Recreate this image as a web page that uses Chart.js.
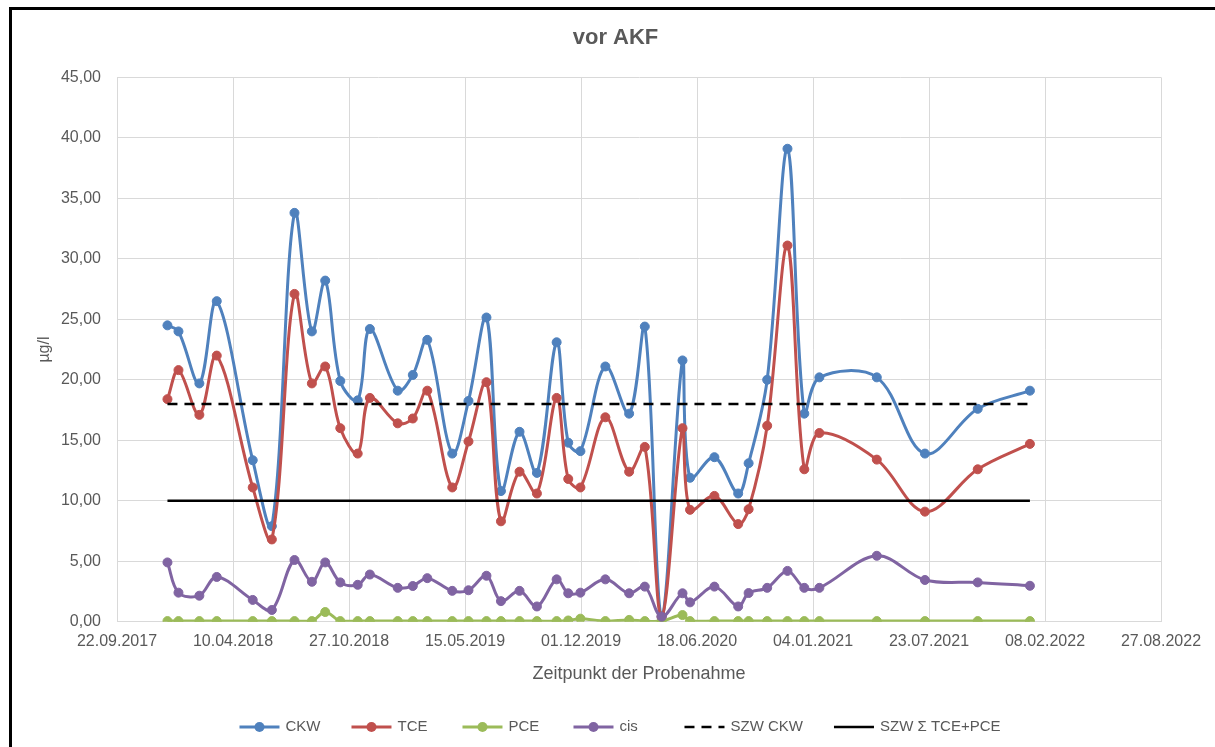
<!DOCTYPE html>
<html lang="de">
<head>
<meta charset="utf-8">
<title>vor AKF</title>
<script src="https://cdn.jsdelivr.net/npm/chart.js@4.4.1/dist/chart.umd.min.js"></script>
<style>
  html, body { margin: 0; padding: 0; background: #fff; overflow: hidden; }
  #wrap { position: relative; width: 1215px; height: 747px; }
  #frame { position: absolute; left: 9px; top: 7px; width: 1300px; height: 800px;
           border-left: 3px solid #000; border-top: 3px solid #000; pointer-events: none; }
  canvas { display: block; }
</style>
</head>
<body>
<div id="wrap">
  <canvas id="chart" width="1215" height="747"></canvas>
  <div id="frame"></div>
</div>
<script>
// Sampling dates (Zeitpunkt der Probenahme)
const sampleDates = [
  '2017-12-18', '2018-01-06', '2018-02-11', '2018-03-13', '2018-05-14', '2018-06-16',
  '2018-07-25', '2018-08-24', '2018-09-16', '2018-10-12', '2018-11-11', '2018-12-02',
  '2019-01-19', '2019-02-14', '2019-03-11', '2019-04-23', '2019-05-21', '2019-06-21',
  '2019-07-16', '2019-08-17', '2019-09-16', '2019-10-20', '2019-11-09', '2019-11-30',
  '2020-01-12', '2020-02-22', '2020-03-20', '2020-04-18', '2020-05-24', '2020-06-06',
  '2020-07-18', '2020-08-28', '2020-09-15', '2020-10-17', '2020-11-21', '2020-12-20',
  '2021-01-15', '2021-04-24', '2021-07-16', '2021-10-15', '2022-01-13'
];

// Concentrations in µg/l
const ckw = [
  24.5, 24.0, 19.7, 26.5, 13.35, 7.9,
  33.8, 24.0, 28.2, 19.9, 18.3, 24.2,
  19.1, 20.4, 23.3, 13.9, 18.25, 25.15,
  10.8, 15.7, 12.3, 23.1, 14.8, 14.1,
  21.1, 17.2, 24.4, 0.45, 21.6, 11.9,
  13.6, 10.6, 13.1, 20.0, 39.1, 17.2,
  20.2, 20.2, 13.9, 17.6, 19.1
];
const tce = [
  18.4, 20.8, 17.1, 22.0, 11.1, 6.8,
  27.1, 19.7, 21.1, 16.0, 13.9, 18.5,
  16.4, 16.8, 19.1, 11.1, 14.9, 19.8,
  8.3, 12.4, 10.6, 18.5, 11.8, 11.1,
  16.9, 12.4, 14.45, 0.4, 16.0, 9.25,
  10.4, 8.07, 9.3, 16.2, 31.1, 12.6,
  15.6, 13.4, 9.1, 12.6, 14.7
];
const pce = [
  0.05, 0.05, 0.05, 0.05, 0.05, 0.05,
  0.05, 0.05, 0.8, 0.05, 0.05, 0.05,
  0.05, 0.05, 0.05, 0.05, 0.05, 0.05,
  0.05, 0.05, 0.05, 0.05, 0.1, 0.25,
  0.05, 0.15, 0.05, 0.05, 0.55, 0.05,
  0.05, 0.05, 0.05, 0.05, 0.05, 0.05,
  0.05, 0.05, 0.05, 0.05, 0.05
];
const cis = [
  4.9, 2.4, 2.15, 3.7, 1.8, 0.97,
  5.1, 3.3, 4.9, 3.25, 3.05, 3.9,
  2.8, 2.95, 3.6, 2.55, 2.6, 3.8,
  1.7, 2.55, 1.26, 3.5, 2.35, 2.4,
  3.5, 2.35, 2.9, 0.4, 2.35, 1.6,
  2.9, 1.26, 2.37, 2.8, 4.2, 2.8,
  2.8, 5.45, 3.45, 3.25, 2.97
];

// Limit values (SZW)
const szwCkw = 18;
const szwTcePce = 10;

// Axis settings
const axisStart = '2017-09-22';
const axisEnd = '2022-08-27';
const xStepDays = 200;
const yMin = 0, yMax = 45, yStep = 5;

const DAY = 86400000;
function toUTC(s) {
  const [y, m, d] = s.split('-').map(Number);
  return Date.UTC(y, m - 1, d);
}
const startUTC = toUTC(axisStart);
const dayOffset = s => Math.round((toUTC(s) - startUTC) / DAY);
function formatDate(offset) {
  const d = new Date(startUTC + offset * DAY);
  const p = n => String(n).padStart(2, '0');
  return p(d.getUTCDate()) + '.' + p(d.getUTCMonth() + 1) + '.' + d.getUTCFullYear();
}

const xs = sampleDates.map(dayOffset);
const series = vals => vals.map((v, i) => ({ x: xs[i], y: v }));
const flat = v => [{ x: xs[0], y: v }, { x: xs[xs.length - 1], y: v }];

const FONT = "'Liberation Sans', Arial, sans-serif";
const TEXT = '#595959';
const GRID = '#d9d9d9';

function lineSeries(label, vals, color, order) {
  return {
    label, data: series(vals), order,
    borderColor: color, backgroundColor: color,
    borderWidth: 3, tension: 0.35,
    pointRadius: 4.5, pointBorderWidth: 1,
    pointBackgroundColor: color, pointBorderColor: color,
    fill: false
  };
}
function limitSeries(label, value, dash, order) {
  return {
    label, data: flat(value), order,
    borderColor: '#000', backgroundColor: '#000',
    borderWidth: 2.5, borderDash: dash, tension: 0,
    pointRadius: 0, fill: false
  };
}

const datasets = [
  lineSeries('CKW', ckw, '#4F81BD', 6),
  lineSeries('TCE', tce, '#C0504D', 5),
  lineSeries('PCE', pce, '#9BBB59', 4),
  lineSeries('cis', cis, '#8064A2', 3),
  limitSeries('SZW CKW', szwCkw, [10, 7], 2),
  limitSeries('SZW \u03A3 TCE+PCE', szwTcePce, [], 1)
];

// Legend row below the axis title: line sample with marker, then label
const legendRow = {
  id: 'legendRow',
  afterDraw(chart, args, opts) {
    const ctx = chart.ctx;
    ctx.save();
    ctx.font = opts.font;
    const items = chart.data.datasets.map(ds => {
      const w = ctx.measureText(ds.label).width;
      return { ds, w, slot: Math.max(opts.lineLen + opts.gap + w, opts.minSlot) };
    });
    const total = items.reduce((s, it) => s + it.slot, 0) + opts.spacing * (items.length - 1);
    let x = opts.centerX - total / 2;
    const y = opts.y;
    items.forEach(({ ds, slot }) => {
      ctx.strokeStyle = ds.borderColor;
      ctx.lineWidth = ds.borderWidth;
      ctx.setLineDash(ds.borderDash || []);
      ctx.beginPath();
      ctx.moveTo(x, y);
      ctx.lineTo(x + opts.lineLen, y);
      ctx.stroke();
      ctx.setLineDash([]);
      if (ds.pointRadius > 0) {
        ctx.fillStyle = ds.pointBackgroundColor;
        ctx.beginPath();
        ctx.arc(x + opts.lineLen / 2, y, ds.pointRadius + 0.5, 0, Math.PI * 2);
        ctx.fill();
      }
      ctx.fillStyle = opts.color;
      ctx.textBaseline = 'middle';
      ctx.textAlign = 'left';
      ctx.fillText(ds.label, x + opts.lineLen + opts.gap, y);
      x += slot + opts.spacing;
    });
    ctx.restore();
  }
};

// Centre the chart title over the whole picture
const titleCentre = {
  id: 'titleCentre',
  afterLayout(chart, args, opts) {
    const t = chart.titleBlock;
    if (t) { t.left = opts.centerX - 615; t.right = opts.centerX + 615; }
  }
};

new Chart(document.getElementById('chart'), {
  type: 'line',
  data: { datasets },
  plugins: [legendRow, titleCentre],
  options: {
    responsive: false,
    animation: false,
    devicePixelRatio: 1,
    layout: { padding: { left: 0, right: 54, top: 0, bottom: 45 } },
    plugins: {
      legend: { display: false },
      tooltip: { enabled: false },
      title: {
        display: true, text: 'vor AKF', color: TEXT,
        font: { family: FONT, size: 22, weight: 'bold' },
        padding: { top: 25, bottom: 26 }
      },
      titleCentre: { centerX: 615.5 },
      legendRow: { font: '15px ' + FONT, color: TEXT, y: 727, centerX: 620, lineLen: 40, gap: 6, spacing: 31, minSlot: 80 }
    },
    scales: {
      x: {
        type: 'linear',
        min: 0, max: dayOffset(axisEnd),
        afterFit(scale) { scale.height = 80.3; },
        ticks: {
          stepSize: xStepDays, color: TEXT, padding: 10, maxRotation: 0, autoSkip: false,
          font: { family: FONT, size: 16 },
          callback: v => formatDate(v)
        },
        grid: { color: GRID, lineWidth: 1, drawTicks: false },
        border: { color: GRID, width: 1 },
        title: {
          display: true, text: 'Zeitpunkt der Probenahme', color: TEXT,
          font: { family: FONT, size: 18 }, padding: { top: 0, bottom: 17 }
        }
      },
      y: {
        min: yMin, max: yMax,
        afterFit(scale) { scale.width = 117; },
        ticks: {
          stepSize: yStep, color: TEXT, padding: 16,
          font: { family: FONT, size: 16 },
          callback: v => v.toFixed(2).replace('.', ',')
        },
        grid: { color: GRID, lineWidth: 1, drawTicks: false },
        border: { color: GRID, width: 1 },
        title: {
          display: true, text: 'µg/l', color: TEXT,
          font: { family: FONT, size: 16 }, padding: { top: 35, bottom: 0 }
        }
      }
    }
  }
});
</script>
</body>
</html>
